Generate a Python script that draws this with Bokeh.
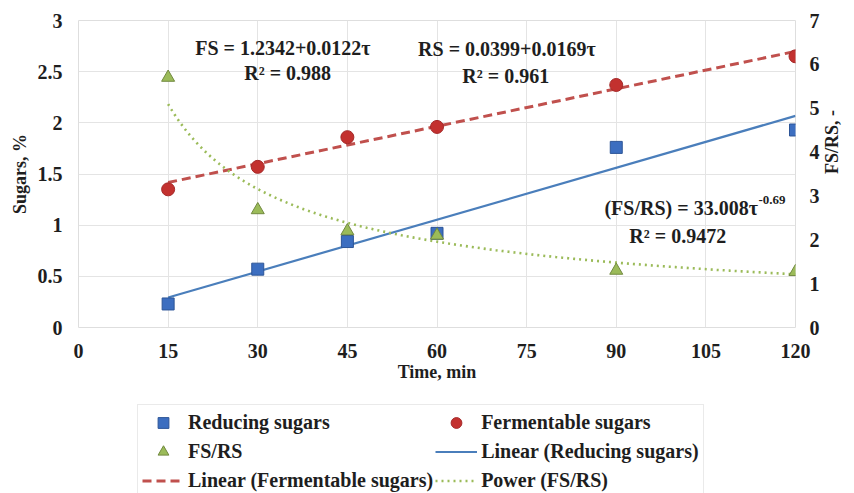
import math
import numpy as np
from bokeh.plotting import figure
from bokeh.layouts import column
from bokeh.models import (Range1d, LinearAxis, Legend, LegendItem, Label,
                          FixedTicker)
from bokeh.embed import file_html
from bokeh.resources import INLINE

# ---------------- data ----------------
time_min = [15, 30, 45, 60, 90, 120]
reducing_sugars = [0.23, 0.57, 0.84, 0.92, 1.76, 1.93]
fermentable_sugars = [1.35, 1.57, 1.86, 1.96, 2.37, 2.65]
fs_rs_ratio = [5.7, 2.68, 2.2, 2.1, 1.3, 1.27]

x_ticks = [0, 15, 30, 45, 60, 75, 90, 105, 120]
y_left_ticks = [0, 0.5, 1, 1.5, 2, 2.5, 3]
y_left_labels = ["0", "0.5", "1", "1.5", "2", "2.5", "3"]
y_right_ticks = [0, 1, 2, 3, 4, 5, 6, 7]

# trendline coefficients (as printed on the chart)
rs_fit = (0.0399, 0.0169)      # RS = a + b*t
fs_fit = (1.2342, 0.0122)      # FS = a + b*t
ratio_fit = (33.008, -0.69)    # FS/RS = a * t^b

FONT = "Liberation Serif"
TXT = "#1e1e1e"
C_RS, C_RS_LINE = "#3C6EC0", "#4A7EBB"
C_FS, C_FS_LINE = "#C3312F", "#C0504D"
C_RATIO = "#9BBB59"

p = figure(width=854, height=403, x_range=Range1d(0, 120), y_range=Range1d(0, 3),
           min_border_left=78, min_border_right=56, min_border_top=20,
           min_border_bottom=76, output_backend="svg", toolbar_location=None)
p.extra_y_ranges = {"ratio": Range1d(0, 7)}

p.outline_line_color = "#dedede"
p.background_fill_color = "white"
p.border_fill_color = "white"

# axes
p.xaxis.ticker = FixedTicker(ticks=x_ticks)
p.yaxis.ticker = FixedTicker(ticks=y_left_ticks)
p.yaxis.major_label_overrides = {t: l for t, l in zip(y_left_ticks, y_left_labels)}
p.xaxis.axis_label = "Time, min"
p.yaxis.axis_label = "Sugars, %"

raxis = LinearAxis(y_range_name="ratio", ticker=FixedTicker(ticks=y_right_ticks),
                   axis_label="FS/RS, -")
p.add_layout(raxis, "right")
try:
    raxis.axis_label_orientation = math.pi / 2
except Exception:
    pass

for ax in [p.xaxis[0], p.yaxis[0], raxis]:
    ax.axis_line_color = None
    ax.major_tick_line_color = None
    ax.minor_tick_line_color = None
    ax.major_tick_out = 0
    ax.major_tick_in = 0
    ax.minor_tick_out = 0
    ax.minor_tick_in = 0
    ax.major_label_text_font = FONT
    ax.major_label_text_font_style = "bold"
    ax.major_label_text_font_size = "20px"
    ax.major_label_text_color = TXT
    ax.axis_label_text_font = FONT
    ax.axis_label_text_font_style = "bold"
    ax.axis_label_text_font_size = "18px"
    ax.axis_label_text_color = TXT

p.xaxis.major_label_standoff = 16
p.xaxis.axis_label_standoff = 1
p.yaxis.major_label_standoff = 16
p.yaxis.axis_label_standoff = 5
raxis.major_label_standoff = 14
raxis.axis_label_standoff = 9

p.xgrid.ticker = FixedTicker(ticks=x_ticks)
p.ygrid.ticker = FixedTicker(ticks=y_left_ticks)
p.xgrid.grid_line_color = "#e4e4e4"
p.ygrid.grid_line_color = "#e4e4e4"

# trendlines
t_lin = np.array([min(time_min), max(time_min)], dtype=float)
t_pow = np.linspace(min(time_min), max(time_min), 200)
y_lin_rs = rs_fit[0] + rs_fit[1] * t_lin
y_lin_fs = fs_fit[0] + fs_fit[1] * t_lin
y_pow = ratio_fit[0] * t_pow ** ratio_fit[1]

LIN_RS = dict(line_color=C_RS_LINE, line_width=2.2)
LIN_FS = dict(line_color=C_FS_LINE, line_width=3, line_dash="9 5")
POW = dict(line_color=C_RATIO, line_width=2.6, line_dash="2 4")
SQ = dict(marker="square", fill_color=C_RS, line_color="#2D5597", line_width=1)
CI = dict(marker="circle", fill_color=C_FS, line_color="#A52A2A", line_width=1)
TR = dict(marker="triangle", fill_color=C_RATIO, line_color="#71893F", line_width=1)

p.line(t_lin, y_lin_rs, **LIN_RS)
p.line(t_lin, y_lin_fs, **LIN_FS)
p.line(t_pow, y_pow, y_range_name="ratio", **POW)

# markers
p.scatter(time_min, reducing_sugars, size=12, **SQ)
p.scatter(time_min, fermentable_sugars, size=13, **CI)
p.scatter(time_min, fs_rs_ratio, size=13, y_range_name="ratio", **TR)

# equations
def lab(x, y, text, size="20px", align="center", y_name="default"):
    p.add_layout(Label(x=x, y=y, text=text, text_align=align, text_baseline="middle",
                       text_font=FONT, text_font_style="bold", text_font_size=size,
                       text_color=TXT, y_range_name=y_name))

lab(34.2, 2.736, "FS = 1.2342+0.0122τ")
lab(35.0, 2.49, "R² = 0.988")
lab(71.7, 2.717, "RS = 0.0399+0.0169τ")
lab(71.5, 2.46, "R² = 0.961")
lab(113.7, 1.163, "(FS/RS) = 33.008τ", align="right")
lab(113.8, 1.245, "-0.69", size="13px", align="left")
lab(100.3, 0.89, "R² = 0.9472")

# ---------------- legend strip (same series, ranges set so the marks stay out of view) ----
q = figure(width=854, height=90, x_range=Range1d(-2, -1), y_range=Range1d(-2, -1),
           x_axis_type=None, y_axis_type=None, min_border=0,
           output_backend="svg", toolbar_location=None)
q.grid.visible = False
q.outline_line_color = None
q.background_fill_color = "white"
q.border_fill_color = "white"

g_rs = q.scatter(time_min, reducing_sugars, size=8, **SQ)
g_fs = q.scatter(time_min, fermentable_sugars, size=8, **CI)
g_ratio = q.scatter(time_min, fs_rs_ratio, size=8, **TR)
g_lin_rs = q.line(t_lin, y_lin_rs, **LIN_RS)
g_lin_fs = q.line(t_lin, y_lin_fs, **LIN_FS)
g_pow = q.line(t_pow, y_pow, **POW)

legend = Legend(items=[
    LegendItem(label="Reducing sugars", renderers=[g_rs]),
    LegendItem(label="Fermentable sugars", renderers=[g_fs]),
    LegendItem(label="FS/RS", renderers=[g_ratio]),
    LegendItem(label="Linear (Reducing sugars)", renderers=[g_lin_rs]),
    LegendItem(label="Linear (Fermentable sugars)", renderers=[g_lin_fs]),
    LegendItem(label="Power (FS/RS)", renderers=[g_pow]),
], orientation="horizontal", ncols=2, location=(59, -6))
legend.label_text_font = FONT
legend.label_text_font_style = "bold"
legend.label_text_font_size = "20px"
legend.label_text_color = TXT
legend.glyph_width = 42
legend.glyph_height = 27
legend.label_height = 27
legend.label_standoff = 4
legend.spacing = 2
legend.padding = 4
legend.margin = 0
legend.border_line_color = "#d6d6d6"
legend.background_fill_color = "white"
legend.background_fill_alpha = 1
q.add_layout(legend, "center")

layout = column(p, q, spacing=0)
open("out.html", "w").write(file_html(layout, INLINE))
